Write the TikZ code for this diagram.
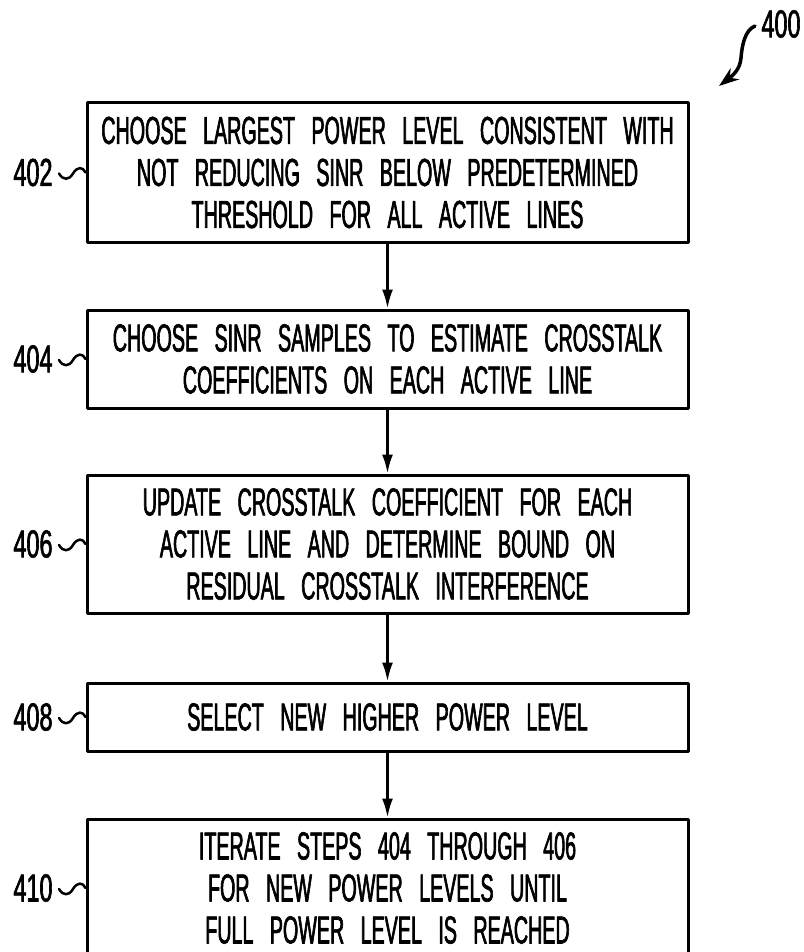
\documentclass[tikz,border=0pt]{standalone}
\usepackage{fontspec}
\newfontfamily\plotfont{Liberation Sans}[FakeStretch=0.505,FakeBold=1.6,WordSpace=3.0]
\newfontfamily\numfont{Liberation Sans}[FakeStretch=0.6,FakeBold=1.6]
\usetikzlibrary{arrows.meta}
\begin{document}
\begin{tikzpicture}[x=1pt, y=-1pt, line join=round, line cap=round,
    stepbox/.style={draw, line width=3pt, minimum width=601pt, inner sep=0pt, align=center,
      font=\plotfont\fontsize{39}{42}\selectfont},
    reflabel/.style={font=\numfont\fontsize{39}{42}\selectfont, inner sep=0pt},
    flow/.style={line width=2.5pt, -{Latex[length=19pt,width=11pt]}},
    squiggle/.style={line width=2.5pt}]
  \useasboundingbox (0,0) rectangle (803,952);

  \node[stepbox, minimum height=139pt] (b402) at (387.5,172.5)
    {CHOOSE LARGEST POWER LEVEL CONSISTENT WITH\\NOT REDUCING SINR BELOW PREDETERMINED\\THRESHOLD FOR ALL ACTIVE LINES};
  \node[stepbox, minimum height=98pt] (b404) at (387.5,359)
    {CHOOSE SINR SAMPLES TO ESTIMATE CROSSTALK\\COEFFICIENTS ON EACH ACTIVE LINE};
  \node[stepbox, minimum height=138pt] (b406) at (387.5,544)
    {UPDATE CROSSTALK COEFFICIENT FOR EACH\\ACTIVE LINE AND DETERMINE BOUND ON\\RESIDUAL CROSSTALK INTERFERENCE};
  \node[stepbox, minimum height=68pt] (b408) at (387.5,717)
    {SELECT NEW HIGHER POWER LEVEL};
  \node[stepbox, minimum height=138pt] (b410) at (387.5,888)
    {ITERATE STEPS 404 THROUGH 406\\FOR NEW POWER LEVELS UNTIL\\FULL POWER LEVEL IS REACHED};

  \draw[flow] (b402) -- (b404);
  \draw[flow] (b404) -- (b406);
  \draw[flow] (b406) -- (b408);
  \draw[flow] (b408) -- (b410);

  % reference numerals
  \foreach \n/\y in {402/172.5, 404/359, 406/544, 408/717, 410/888} {
    \node[reflabel] (l\n) at (33,\y) {\n};
    \draw[squiggle] (59,\y+1) .. controls (63,\y+8) and (69,\y+8) .. (73,\y+1)
      .. controls (77,\y-6) and (83,\y-6) .. (b\n.west);
  }

  \node[reflabel] (l400) at (781,24) {400};
  \draw[line width=3.5pt, -{Stealth[length=20pt,width=14pt]}] (755,26)
    .. controls (745,30) and (742,45) .. (741,58)
    .. controls (740,70) and (732,76) .. (719,86);
\end{tikzpicture}
\end{document}
